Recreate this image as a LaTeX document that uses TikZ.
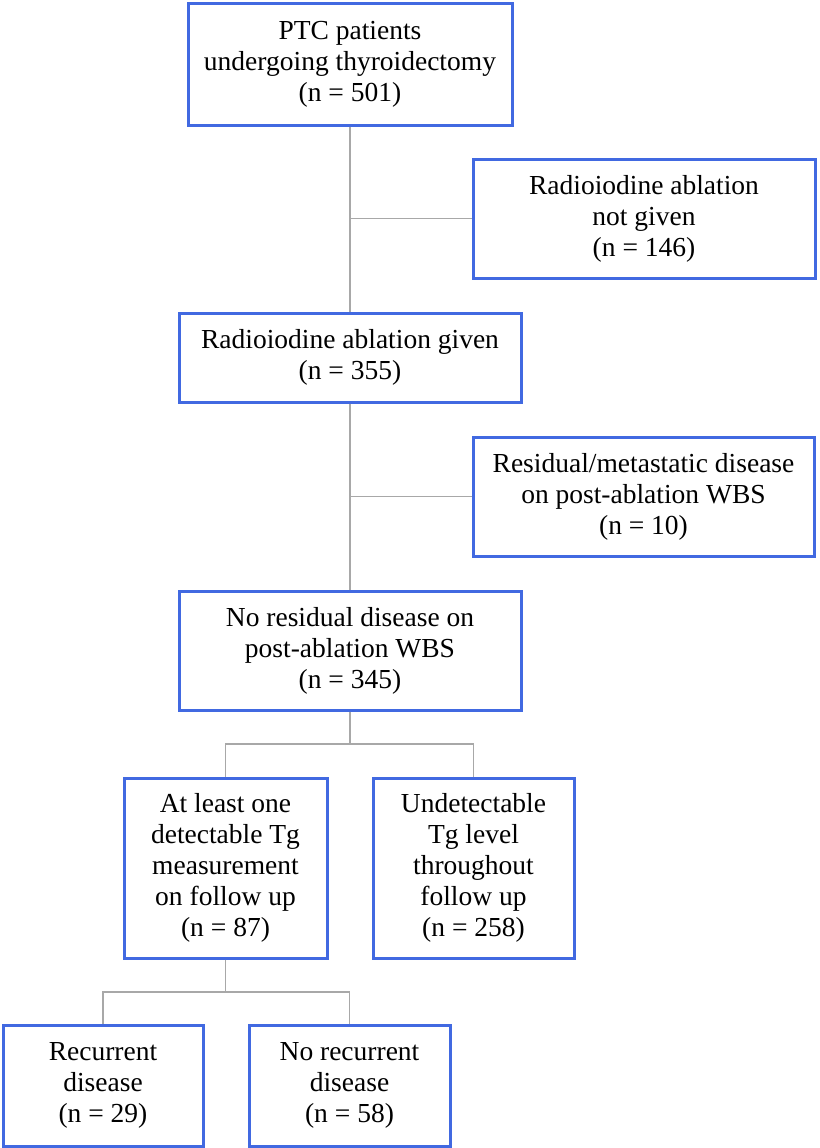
\documentclass[tikz,border=0pt]{standalone}
\usepackage{fontspec}
\setmainfont{Liberation Serif}
\definecolor{boxblue}{HTML}{4169E1}
\definecolor{linegray}{HTML}{A8A8A8}
\begin{document}
\begin{tikzpicture}[x=1pt,y=-1pt,
  fbox/.style={draw=boxblue, line width=3pt, rectangle, inner sep=0pt, align=center,
    font=\fontsize{27.5}{31}\selectfont},
  conn/.style={draw=linegray, line width=1.5pt}]
\useasboundingbox (0,0) rectangle (819,1148);
\node[fbox, minimum width=324pt, minimum height=121pt] (b1) at (350,64.5) {PTC patients\\undergoing thyroidectomy\\(n = 501)};
\node[fbox, minimum width=342pt, minimum height=119pt] (b2) at (644,218.5) {Radioiodine ablation\\not given\\(n = 146)};
\node[fbox, minimum width=342pt, minimum height=89pt] (b3) at (350,357.5) {Radioiodine ablation given\\(n = 355)};
\node[fbox, minimum width=341pt, minimum height=119pt] (b4) at (643.5,496.5) {Residual/metastatic disease\\on post-ablation WBS\\(n = 10)};
\node[fbox, minimum width=342pt, minimum height=119pt] (b5) at (350,650.5) {No residual disease on\\post-ablation WBS\\(n = 345)};
\node[fbox, minimum width=203pt, minimum height=180pt] (b6) at (225.5,868) {At least one\\detectable Tg\\measurement\\on follow up\\(n = 87)};
\node[fbox, minimum width=201pt, minimum height=180pt] (b7) at (473.5,868) {Undetectable\\Tg level\\throughout\\follow up\\(n = 258)};
\node[fbox, minimum width=200pt, minimum height=121pt] (b8) at (103,1085.5) {Recurrent\\disease\\(n = 29)};
\node[fbox, minimum width=201pt, minimum height=121pt] (b9) at (349.5,1085.5) {No recurrent\\disease\\(n = 58)};
\coordinate (j1) at (350,744);
\coordinate (j2) at (225.5,992);
\begin{scope}[on background layer/.try]
\end{scope}
\draw[conn] (b1.south) -- (b3.north);
\draw[conn] (b2.west) -- (b2.west -| b1.south);
\draw[conn] (b3.south) -- (b5.north);
\draw[conn] (b4.west) -- (b4.west -| b3.south);
\draw[conn] (b5.south) -- (j1);
\draw[conn] (b6.north) -- (b6.north |- j1) -- (b7.north |- j1) -- (b7.north);
\draw[conn] (b6.south) -- (j2);
\draw[conn] (b8.north) -- (b8.north |- j2) -- (b9.north |- j2) -- (b9.north);
\end{tikzpicture}
\end{document}
